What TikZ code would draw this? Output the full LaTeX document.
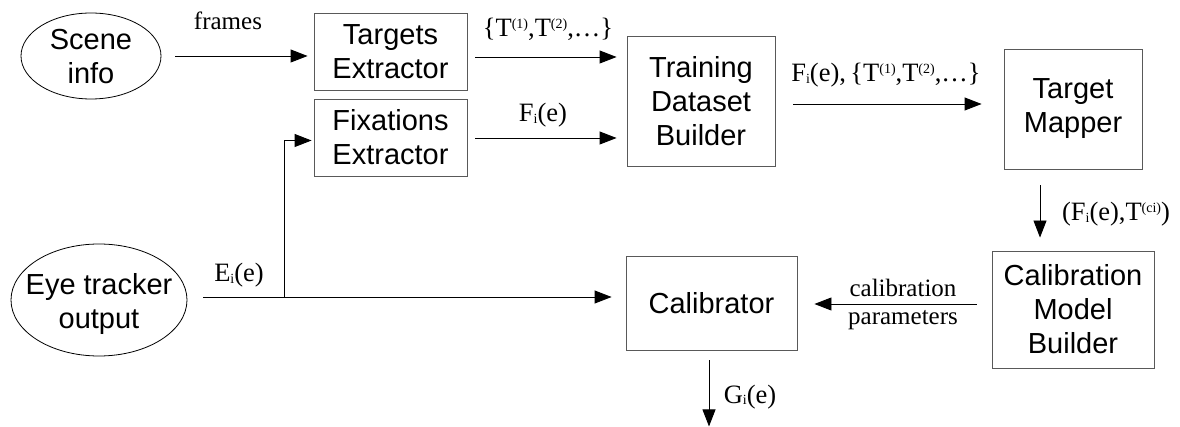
\documentclass[tikz,border=0pt]{standalone}
\usepackage{fontspec}
\setmainfont{Liberation Sans}
\newfontfamily\lblserif{Liberation Serif}
\usetikzlibrary{arrows.meta,calc,shapes.geometric}
\newcommand\bxfont{\fontsize{29}{34}\selectfont}
\newcommand\lbfont{\lblserif\fontsize{26.5}{30}\selectfont}
\newcommand\smfont{\lblserif\fontsize{25}{28}\selectfont}
\newcommand\mysup[1]{\raisebox{8pt}{\fontsize{14}{14}\selectfont #1}}
\newcommand\mysub[1]{\raisebox{-1.5pt}{\fontsize{14}{14}\selectfont #1}}
\begin{document}
\begin{tikzpicture}[x=1pt,y=-1pt,
  blk/.style={draw=black!65,line width=0.9pt,align=center,inner sep=0pt,font=\bxfont},
  ell/.style={ellipse,draw=black,line width=0.8pt,inner sep=0pt},
  etxt/.style={align=center,inner sep=0pt,font=\bxfont},
  arr/.style={line width=0.9pt,-{Triangle[length=17pt,width=13pt]}},
  lbl/.style={font=\lbfont,inner sep=0pt,anchor=base},
  slbl/.style={font=\smfont,inner sep=0pt,anchor=base}]
\useasboundingbox[fill=white] (0,0) rectangle (1180,427);

% nodes
\node[ell,minimum width=140pt,minimum height=86pt] (scene) at (91,56) {};
\node[etxt] (scenetxt) at (91,57) {Scene\\info};
\node[blk,minimum width=153pt,minimum height=77pt] (targets) at (390.5,51.5) {Targets\\Extractor};
\node[blk,minimum width=153pt,minimum height=77pt] (fix) at (390.5,137.5) {Fixations\\Extractor};
\node[blk,minimum width=148pt,minimum height=130pt] (train) at (701,101) {Training\\Dataset\\Builder};
\node[blk,minimum width=138pt,minimum height=120pt] (mapper) at (1073,109) {Target\\Mapper};
\node[blk,minimum width=162pt,minimum height=117pt] (cmb) at (1073,309.5) {Calibration\\Model\\Builder};
\node[blk,minimum width=171pt,minimum height=94pt] (calib) at (711.5,303) {Calibrator};
\node[ell,minimum width=176pt,minimum height=112pt] (eye) at (99,300) {};
\node[etxt] (eyetxt) at (99,304) {Eye tracker\\output};

% connectors
\draw[arr] ($(scene.east)+(14,0)$) -- ($(targets.west |- scene.east)+(-6,0)$);
\coordinate (t1) at ($(targets.east)+(8,5.5)$);
\draw[arr] (t1) -- ($(train.west |- t1)+(-10,0)$);
\coordinate (f1) at ($(fix.east)+(8,0.5)$);
\draw[arr] (f1) -- ($(train.west |- f1)+(-10,0)$);
\coordinate (m1) at ($(train.east)+(18,3)$);
\draw[arr] (m1) -- ($(mapper.west |- m1)+(-22,0)$);
\coordinate (d1) at ($(mapper.south)+(-33,16)$);
\draw[arr] (d1) -- ($(cmb.north -| d1)+(0,-13)$);
\coordinate (c1) at ($(cmb.west)+(-15,-5.5)$);
\draw[arr] (c1) -- ($(calib.east |- c1)+(17,0)$);
\coordinate (e1) at ($(eye.east)+(16,-3)$);
\draw[arr] (e1) -- ($(calib.west |- e1)+(-14,0)$);
\coordinate (j) at ($(e1)+(81,0)$);
\draw[arr] (j) |- ($(fix.west)+(-2,3)$);
\coordinate (g1) at ($(calib.south)+(-2.5,10)$);
\coordinate (gout) at ($(g1)+(0,66)$);
\draw[arr] (g1) -- (gout);

% labels
\node[slbl] (lframes) at (228,30) {frames};
\node[lbl] (lts) at (548,37) {\{T\mysup{(1)},T\mysup{(2)},\ldots\}};
\node[lbl] (lfi) at (543,122) {F\mysub{i}(e)};
\node[lbl] (lft) at (886,82) {F\mysub{i}(e),\,\{T\mysup{(1)},T\mysup{(2)},\ldots\}};
\node[lbl] (lftc) at (1116,221) {(F\mysub{i}(e),T\mysup{(ci)})};
\node[slbl] (lcal) at (903,297) {calibration};
\node[slbl] (lpar) at (903,325) {parameters};
\node[lbl] (lei) at (239,282) {E\mysub{i}(e)};
\node[lbl] (lgi) at (750,403) {G\mysub{i}(e)};
\end{tikzpicture}
\end{document}
